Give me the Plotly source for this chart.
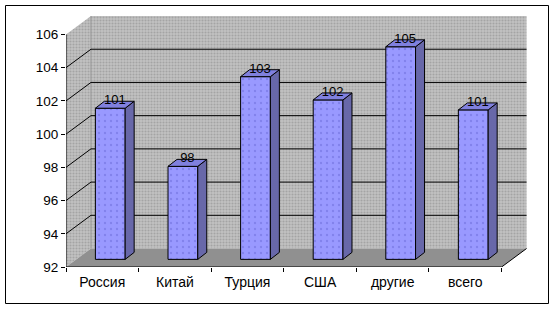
import plotly.graph_objects as go

# ---- data ----
categories = ["Россия", "Китай", "Турция", "США", "другие", "всего"]
values = [101.1, 97.6, 103.0, 101.6, 104.8, 101.0]
y_ticks = [92, 94, 96, 98, 100, 102, 104, 106]

# ---- geometry / style constants (in axis units) ----
Y0, YMAX = 92, 106
DX, DY = 0.344, 1.113          # depth of the chart box
BOX, BOY = 0.11, 0.46          # offset of the bar front faces into the box
BW = 0.41                      # bar width
BDX, BDY = 0.124, 0.42         # depth of each bar
n = len(categories)
XL, XR = -0.5, n - 0.5

WALL = dict(shape=".", bgcolor="#c2c2c2", fgcolor="#868686", size=3, solidity=0.4)
FLOOR = dict(shape=".", bgcolor="#9a9a9a", fgcolor="#6a6a6a", size=2, solidity=0.5)

fig = go.Figure()

def poly(xs, ys, fillcolor=None, pattern=None, line_color="rgba(0,0,0,0)", xaxis="x"):
    fig.add_trace(go.Scatter(
        x=xs + [xs[0]], y=ys + [ys[0]], mode="lines", fill="toself",
        fillcolor=fillcolor, fillpattern=pattern,
        line=dict(color=line_color, width=1), hoverinfo="skip",
        showlegend=False, xaxis=xaxis, yaxis="y"))

# back wall
poly([XL + DX, XR + DX, XR + DX, XL + DX],
     [Y0 + DY, Y0 + DY, YMAX + DY, YMAX + DY], "#c2c2c2", WALL)
# left side wall
poly([XL, XL + DX, XL + DX, XL],
     [Y0, Y0 + DY, YMAX + DY, YMAX], "#c2c2c2", WALL)
# floor
poly([XL, XR, XR + DX, XL + DX],
     [Y0, Y0, Y0 + DY, Y0 + DY], "#9a9a9a", FLOOR)

# back wall left edge (subtle)
fig.add_trace(go.Scatter(x=[XL + DX, XL + DX], y=[Y0 + DY, YMAX + DY], mode="lines",
                         line=dict(color="#9a9a9a", width=1), hoverinfo="skip", showlegend=False))

# gridlines on back wall and left wall
gx, gy = [], []
for v in y_ticks[1:-1]:
    gx += [XL, XL + DX, XR + DX, None]
    gy += [v, v + DY, v + DY, None]
fig.add_trace(go.Scatter(x=gx, y=gy, mode="lines", line=dict(color="black", width=1),
                         hoverinfo="skip", showlegend=False))

# axis lines: y axis, front floor edge, right floor edge
fig.add_trace(go.Scatter(x=[XL, XL, None, XL, XR, XR + DX], y=[YMAX, Y0, None, Y0, Y0, Y0 + DY],
                         mode="lines", line=dict(color="black", width=1),
                         hoverinfo="skip", showlegend=False))

# ---- bars (overlay subplot so they sit above the walls) ----
xc = [i + BOX for i in range(n)]
fig.add_trace(go.Bar(
    x=xc, y=[v - Y0 for v in values], base=Y0 + BOY, width=BW,
    marker=dict(color="#9999ff", line=dict(color="black", width=1),
                pattern=dict(shape=".", bgcolor="#9999ff", fgcolor="#6a6ad8", size=6, solidity=0.12)),
    xaxis="x2", yaxis="y", showlegend=False, hoverinfo="skip"))

for i, v in enumerate(values):
    xr = xc[i] + BW / 2
    xl = xc[i] - BW / 2
    top = v + BOY
    base = Y0 + BOY
    # side face
    poly([xr, xr + BDX, xr + BDX, xr], [base, base + BDY, top + BDY, top],
         "#5e5eaa", dict(shape=".", bgcolor="#5f5f9c", fgcolor="#8a8ae0", size=2, solidity=0.4),
         "black", xaxis="x2")
    # top face
    poly([xl, xr, xr + BDX, xl + BDX], [top, top, top + BDY, top + BDY],
         "#8080de", None, "black", xaxis="x2")

# data labels
fig.add_trace(go.Scatter(
    x=[x + BDX / 2 for x in xc], y=[v + BOY + 0.43 for v in values],
    text=[f"{round(v)}" for v in values], mode="text",
    textfont=dict(family="Liberation Sans, Arial", size=13, color="black"),
    textposition="middle center", xaxis="x2", yaxis="y",
    showlegend=False, hoverinfo="skip"))

xrange = [XL, XR + DX + 0.006]
fig.update_layout(
    width=560, height=310,
    margin=dict(l=66, r=33, t=16, b=43),
    paper_bgcolor="white", plot_bgcolor="white",
    font=dict(family="Liberation Sans, Arial", size=13, color="black"),
    xaxis=dict(range=xrange, tickvals=[i - 0.5 for i in range(n + 1)], showticklabels=False,
               ticks="outside", ticklen=4, tickcolor="black", showgrid=False,
               zeroline=False, showline=False, fixedrange=True),
    xaxis2=dict(range=xrange, overlaying="x", anchor="y", side="bottom",
                tickvals=list(range(n)), ticktext=categories, ticks="",
                tickfont=dict(size=14), ticklabelstandoff=5,
                showgrid=False, zeroline=False, showline=False),
    yaxis=dict(range=[Y0, YMAX + DY + 0.0], tickvals=y_ticks, ticks="outside", ticklen=4,
               tickcolor="black", tickfont=dict(size=13.5), showgrid=False, zeroline=False,
               showline=False),
    shapes=[dict(type="rect", xref="paper", yref="paper",
                 x0=(5.5 - 66) / 461, x1=(548.5 - 66) / 461,
                 y0=(267 - 303.5) / 251, y1=(267 - 5.5) / 251,
                 line=dict(color="black", width=1), fillcolor="rgba(0,0,0,0)")],
)

fig.write_html("out.html")
